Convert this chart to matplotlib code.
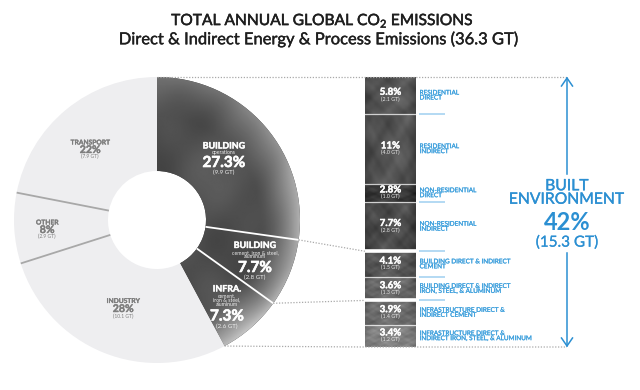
import numpy as np
import matplotlib
matplotlib.use('Agg')
import matplotlib.pyplot as plt
import matplotlib.patheffects as pe
from matplotlib.transforms import blended_transform_factory

plt.rcParams['font.family'] = ['Lato', 'DejaVu Sans']
plt.rcParams['mathtext.fontset'] = 'custom'
plt.rcParams['mathtext.rm'] = 'Lato'

# ---------------- data ----------------
title = "TOTAL ANNUAL GLOBAL CO$_2$ EMISSIONS"
subtitle = "Direct & Indirect Energy & Process Emissions (36.3 GT)"

sector_names = ['BUILDING', 'BUILDING', 'INFRA.', 'INDUSTRY', 'OTHER', 'TRANSPORT']
sector_subs = ['operations', 'cement, iron & steel,\naluminum', 'cement,\niron & steel,\naluminum', '', '', '']
sector_pct = [27.3, 7.7, 7.3, 28, 8, 22]
sector_gt = [9.9, 2.8, 2.6, 10.1, 2.9, 7.9]
sector_dark = [True, True, True, False, False, False]

sub_labels = ['RESIDENTIAL\nDIRECT', 'RESIDENTIAL\nINDIRECT', 'NON-RESIDENTIAL\nDIRECT',
              'NON-RESIDENTIAL\nINDIRECT', 'BUILDING DIRECT & INDIRECT\nCEMENT',
              'BUILDING DIRECT & INDIRECT\nIRON, STEEL, & ALUMINUM',
              'INFRASTRUCTURE DIRECT &\nINDIRECT CEMENT',
              'INFRASTRUCTURE DIRECT &\nINDIRECT IRON, STEEL, & ALUMINUM']
sub_pct = [5.8, 11, 2.8, 7.7, 4.1, 3.6, 3.9, 3.4]
sub_gt = [2.1, 4.0, 1.0, 2.8, 1.5, 1.3, 1.4, 1.2]
sub_sector = [0, 0, 0, 0, 1, 1, 2, 2]

built_name = "BUILT\nENVIRONMENT"
built_pct = 42
built_gt = 15.3

# ---------------- style ----------------
BLUE = '#2b8fd2'
BLUE_TXT = '#3a9edc'
BLUE_RULE = '#9fd0f0'
LIGHT = '#eeeef0'
GRAYTXT = '#7e7e7e'
DOT = '#a9a9a9'
cell_shade = [0.34, 0.33, 0.23, 0.30, 0.35, 0.41, 0.43, 0.51]
blue_rule_after = [0, 2, 3, 4, 5]


def med(color, w=0.35):
    return [pe.withStroke(linewidth=w, foreground=color)]


W, H = 640, 390
fig = plt.figure(figsize=(6.4, 3.9), dpi=100)


def frac(l, t, w, h):
    return [l / W, (H - t - h) / H, w / W, h / H]


def texture(ny, nx, k=1.0):
    yy, xx = np.mgrid[-1:1:ny * 1j, -1:1:nx * 1j]
    n = (0.5 * np.sin(k * (3.1 * xx + 1.3 * yy) + 0.5)
         + 0.4 * np.sin(k * (-2.3 * xx + 4.1 * yy) + 1.7)
         + 0.3 * np.sin(k * (5.3 * xx + 5.9 * yy) + 2.9)
         + 0.22 * np.sin(k * (8.7 * xx - 6.1 * yy) + 0.3)
         + 0.15 * np.sin(k * (12.1 * xx + 9.3 * yy) + 1.1)
         + 0.1 * np.sin(k * (17.3 * xx - 14.1 * yy) + 2.2))
    n = (n - n.min()) / (n.max() - n.min())
    return xx, yy, n


# ---------------- donut ----------------
cx, cy, R = 157, 220, 143
hole = 49 / 143
ax_p = fig.add_axes(frac(cx - R, cy - R, 2 * R, 2 * R))
pie_colors = ['#3a3a3a' if d else LIGHT for d in sector_dark]
wedges, _ = ax_p.pie(sector_pct, startangle=90, counterclock=False, radius=1,
                     colors=pie_colors, wedgeprops=dict(width=1 - hole, linewidth=0))

xx, yy, n = texture(320, 320)
r = np.hypot(xx, yy)
th = np.arctan2(yy, xx)
edge = np.clip((r - 0.72) / 0.28, 0, 1) ** 1.5
w = np.clip(0.5 + 0.5 * np.cos(th + np.radians(25)), 0, 1)
val = 0.18 + 0.2 * n + 0.42 * edge * w + 0.12 * np.clip(-yy - 0.35, 0, 1)
for wdg, dark in zip(wedges, sector_dark):
    if dark:
        im = ax_p.imshow(val, extent=[-1, 1, -1, 1], origin='lower', cmap='gray',
                         vmin=0, vmax=1, interpolation='bilinear', aspect='auto', zorder=2)
        im.set_clip_path(wdg)

tot = sum(sector_pct)
cum = np.concatenate([[0], np.cumsum(sector_pct)])
theta = np.radians(90 - 360 * cum / tot)
for i in range(1, len(sector_pct)):
    a, b = sector_dark[i - 1], sector_dark[i]
    if a and b:
        col = 'white'
    elif not a and not b:
        col = '#a8a8a8'
    else:
        continue
    t = theta[i]
    ax_p.plot([hole * np.cos(t), np.cos(t)], [hole * np.sin(t), np.sin(t)],
              color=col, lw=1.3, zorder=3, solid_capstyle='butt')
ax_p.set_xlim(-1, 1)
ax_p.set_ylim(-1, 1)
ax_p.set_aspect('auto')
ax_p.axis('off')

# ---------------- stacked bar ----------------
ax_b = fig.add_axes(frac(365, 77, 51, 270))
sub_tot = sum(sub_pct)
bottoms = np.concatenate([[0], np.cumsum(sub_pct)[:-1]])
bars = ax_b.bar(0, sub_pct, bottom=bottoms, width=1, color='#505050', linewidth=0, zorder=1)
ax_b.set_xlim(-0.5, 0.5)
ax_b.set_ylim(sub_tot, 0)
ax_b.axis('off')

for k, (rect, shade) in enumerate(zip(bars, cell_shade)):
    y0, h = rect.get_y(), rect.get_height()
    ny = max(int(h * 8), 10)
    bx, by, bn = texture(ny, 40, k=1.0 + 0.15 * k)
    bedge = np.clip((np.abs(bx) - 0.7) / 0.3, 0, 1)
    bval = shade + 0.16 * (bn - 0.5) - 0.06 * bedge
    im = ax_b.imshow(bval, extent=[-0.5, 0.5, y0 + h, y0], cmap='gray', vmin=0, vmax=1,
                     interpolation='bilinear', aspect='auto', zorder=2)
    im.set_clip_path(rect)

cum_sub = np.cumsum(sub_pct)
for i in range(len(sub_pct) - 1):
    thick = sub_sector[i] != sub_sector[i + 1]
    ax_b.axhline(cum_sub[i], color='white', lw=2.6 if thick else 0.9,
                 alpha=1 if thick else 0.75, zorder=3)

blend = blended_transform_factory(ax_b.transAxes, ax_b.transData)
for i, (v, g, lab) in enumerate(zip(sub_pct, sub_gt, sub_labels)):
    c = bottoms[i] + v / 2
    ax_b.annotate(f"{v:g}%", (0, c), xytext=(0, 2.3), textcoords='offset points',
                  ha='center', va='center', color='white', fontsize=7, fontweight='bold',
                  zorder=4, path_effects=med('white', 0.3))
    ax_b.annotate(f"({g:.1f} GT)", (0, c), xytext=(0, -2.5), textcoords='offset points',
                  ha='center', va='center', color='#e8e8e8', fontsize=3.8, zorder=4)
    ax_b.text(1.07, c, lab, transform=blend, ha='left', va='center', fontsize=4.6,
              color=BLUE_TXT, linespacing=1.0, path_effects=med(BLUE_TXT, 0.15))
for i in blue_rule_after:
    ax_b.plot([1.05, 1.57], [cum_sub[i], cum_sub[i]], transform=blend, clip_on=False,
              color=BLUE_RULE, lw=1.1, solid_capstyle='butt')

# ---------------- overlay ----------------
ax_o = fig.add_axes([0, 0, 1, 1], zorder=5)
ax_o.set_xlim(0, W)
ax_o.set_ylim(H, 0)
ax_o.axis('off')


def to_o(ax, x, y):
    d = ax.transData.transform((x, y))
    return ax_o.transData.inverted().transform(d)


dot_kw = dict(color=DOT, lw=0.9, linestyle=(0, (1, 1.3)))
arrow_x = 567
p_top = to_o(ax_p, 0, 1)
b_top = to_o(ax_b, -0.5, 0)
ax_o.plot([p_top[0], arrow_x], [p_top[1], b_top[1]], **dot_kw)
for si, pi in [(3, 1), (5, 2)]:
    t = theta[pi]
    a = to_o(ax_p, np.cos(t), np.sin(t))
    b = to_o(ax_b, -0.5, cum_sub[si])
    ax_o.plot([a[0], b[0]], [a[1], b[1]], **dot_kw)
t = theta[3]
a = to_o(ax_p, np.cos(t), np.sin(t))
b = to_o(ax_b, -0.5, sub_tot)
ax_o.plot([a[0], b[0], arrow_x], [a[1], b[1], b[1]], **dot_kw)

# arrow
y_top, y_bot = b_top[1], b[1]
ax_o.plot([arrow_x, arrow_x], [y_top + 1, 174], color=BLUE, lw=1.1)
ax_o.plot([arrow_x, arrow_x], [253, y_bot - 1], color=BLUE, lw=1.1)
ax_o.plot([arrow_x - 5.5, arrow_x, arrow_x + 5.5], [y_top + 9, y_top + 1, y_top + 9], color=BLUE, lw=1.1)
ax_o.plot([arrow_x - 5.5, arrow_x, arrow_x + 5.5], [y_bot - 9, y_bot - 1, y_bot - 9], color=BLUE, lw=1.1)
ax_o.text(arrow_x, 193, built_name, ha='center', va='center', fontsize=11.3,
          color=BLUE, linespacing=0.95, path_effects=med(BLUE, 0.25))
ax_o.text(arrow_x, 222, f"{built_pct}%", ha='center', va='center', fontsize=17,
          fontweight='bold', color=BLUE)
ax_o.text(arrow_x, 242.5, f"({built_gt} GT)", ha='center', va='center', fontsize=11,
          color=BLUE, path_effects=med(BLUE, 0.15))

# titles
ax_o.text(322, 21, title, ha='center', va='center', fontsize=11.2, color='#1e1e1e',
          path_effects=med('#1e1e1e', 0.35))
ax_o.text(318.5, 39, subtitle, ha='center', va='center', fontsize=11.9, color='#1e1e1e',
          path_effects=med('#1e1e1e', 0.28))

# donut labels (pixel layout)
lab_x = [224, 255, 227, 123, 47, 90]
name_y = [146, 245.5, 289, 300.5, 222, 142]
sub_y = [152.5, 254.5, 300, None, None, None]
pct_y = [163, 268, 316.5, 308.5, 229.5, 149.5]
gt_y = [172, 277.5, 326, 316.5, 236.5, 156.5]
for i in range(len(sector_names)):
    dark = sector_dark[i]
    col = 'white' if dark else GRAYTXT
    ax_o.text(lab_x[i], name_y[i], sector_names[i], ha='center', va='center',
              fontsize=6.4 if dark else 4.8, fontweight='bold', color=col,
              path_effects=med(col, 0.3 if dark else 0.2))
    if sector_subs[i]:
        ax_o.text(lab_x[i], sub_y[i], sector_subs[i], ha='center', va='center',
                  fontsize=3.7, color='#f0f0f0', linespacing=0.85)
    ax_o.text(lab_x[i], pct_y[i], f"{sector_pct[i]:g}%", ha='center', va='center',
              fontsize=11 if dark else 7.6, fontweight='bold', color=col,
              path_effects=med(col, 0.45 if dark else 0.3))
    ax_o.text(lab_x[i], gt_y[i], f"({sector_gt[i]:.1f} GT)", ha='center', va='center',
              fontsize=4.4 if dark else 3.6, color='#eeeeee' if dark else GRAYTXT)

fig.savefig('out.png', dpi=100)
